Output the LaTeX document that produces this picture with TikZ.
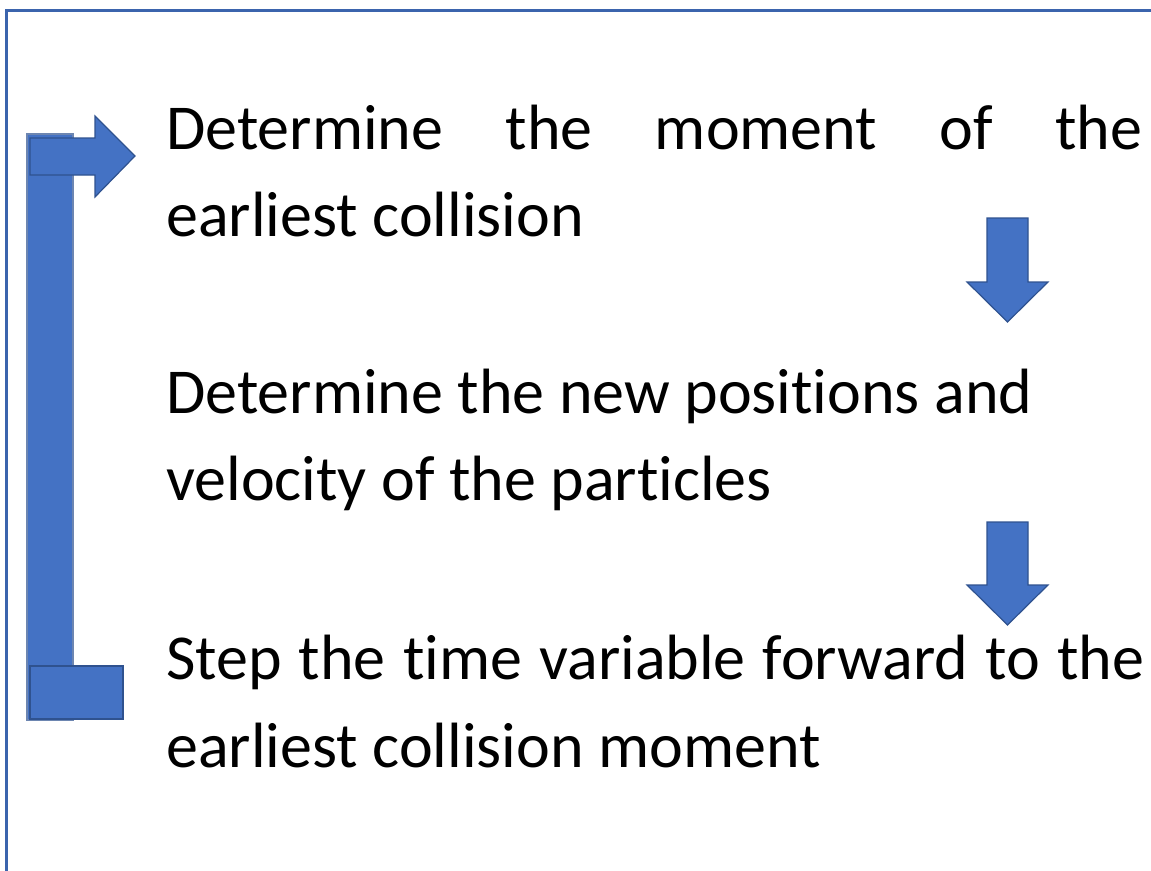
\documentclass[tikz,border=0pt]{standalone}
\usepackage{fontspec}
\setmainfont{Carlito}[Ligatures=NoCommon]
\definecolor{fillblue}{HTML}{4472C4}
\definecolor{edgeblue}{HTML}{2F528F}
\definecolor{frameblue}{HTML}{3B64AD}
\tikzset{
  shp/.style={fill=fillblue, draw=edgeblue, line width=1.2bp, line join=miter},
  txt/.style={anchor=base west, inner sep=0pt, font=\fontsize{64bp}{87bp}\selectfont},
}
\begin{document}
\begin{tikzpicture}[x=1bp,y=-1bp]
\useasboundingbox (0,0) rectangle (1151,871);
% frame
\draw[frameblue, line width=3bp] (6,880) -- (6,10) -- (1160,10);
% loop bracket
\draw[shp, draw=edgeblue!70] (27,134) rectangle (73,720);
\draw[shp] (30,138) -- (95,138) -- (95,116) -- (135,156) -- (95,197) -- (95,175) -- (30,175) -- cycle;
\draw[shp] (30,666) rectangle (123,719);
% down arrows
\draw[shp] (987,218) -- (1028,218) -- (1028,282) -- (1048,282) -- (1007.5,322) -- (967,282) -- (987,282) -- cycle;
\draw[shp] (987,522) -- (1028,522) -- (1028,585) -- (1048,585) -- (1007.5,625) -- (967,585) -- (987,585) -- cycle;
% texts
\node[txt] (a1) at (166,149) {\makebox[976bp][s]{Determine the moment of the}};
\node[txt] (a2) at (166,236) {earliest collision};
\node[txt] (b1) at (166,413) {Determine the new positions and};
\node[txt] (b2) at (166,500) {velocity of the particles};
\node[txt] (c1) at (166,679) {\makebox[978bp][s]{Step the time variable forward to the}};
\node[txt] (c2) at (166,767) {earliest collision moment};
\end{tikzpicture}
\end{document}
